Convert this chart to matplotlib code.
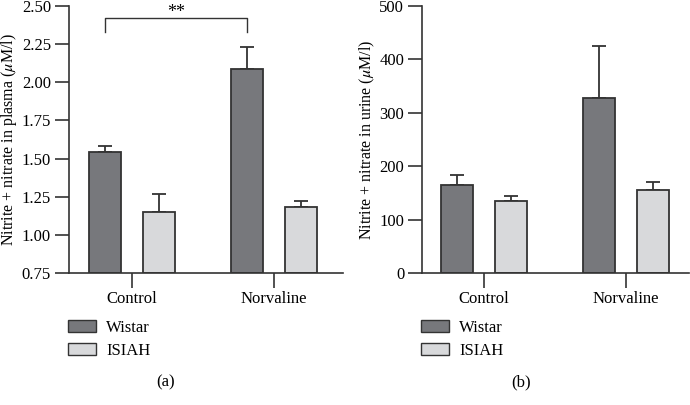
import matplotlib
matplotlib.use("Agg")
import matplotlib.pyplot as plt
from matplotlib.patches import Patch
import numpy as np

# Data
groups = ["Control", "Norvaline"]
strains = ["Wistar", "ISIAH"]
plasma_mean = {"Wistar": [1.54, 2.09], "ISIAH": [1.15, 1.18]}
plasma_err = {"Wistar": [0.04, 0.14], "ISIAH": [0.12, 0.045]}
urine_mean = {"Wistar": [165, 328], "ISIAH": [135, 156]}
urine_err = {"Wistar": [18, 97], "ISIAH": [10, 14]}

colors = {"Wistar": "#77787c", "ISIAH": "#d8d9db"}
edge = "#333333"

plt.rcParams["font.family"] = "Liberation Serif"
plt.rcParams["mathtext.fontset"] = "stix"
plt.rcParams["font.size"] = 12

fig = plt.figure(figsize=(6.9, 4.05), dpi=100)
ax1 = fig.add_axes([0.1, 0.326, 0.397, 0.659])
ax2 = fig.add_axes([0.612, 0.326, 0.386, 0.659])

offsets = {"Wistar": -0.19, "ISIAH": 0.19}
width = 0.225
x = np.arange(len(groups))


def draw_panel(ax, means, errs, ylim, yticks, fmt, ylabel, xlim):
    base = ylim[0]
    for s in strains:
        xs = x + offsets[s]
        heights = np.array(means[s]) - base
        ax.bar(xs, heights, width, bottom=base,
               color=colors[s], edgecolor=edge, linewidth=1.3, zorder=2)
        ax.errorbar(xs, means[s], yerr=[np.zeros(len(xs)), errs[s]], fmt="none",
                    ecolor=edge, elinewidth=1.3, capsize=4.8, capthick=1.3, zorder=1)
    ax.set_ylim(ylim)
    ax.set_xlim(xlim)
    ax.set_yticks(yticks)
    ax.set_yticklabels([fmt.format(t) for t in yticks])
    ax.set_xticks(x)
    ax.set_xticklabels(groups)
    ax.set_ylabel(ylabel, fontsize=11.5, labelpad=2)
    for sp in ["top", "right"]:
        ax.spines[sp].set_visible(False)
    for sp in ["left", "bottom"]:
        ax.spines[sp].set_linewidth(1.2)
        ax.spines[sp].set_color(edge)
    ax.tick_params(axis="both", length=10, width=1.2, color=edge, labelsize=12)
    ax.tick_params(axis="y", pad=3)
    ax.tick_params(axis="x", length=11, pad=2)


# Panel (a)
draw_panel(ax1, plasma_mean, plasma_err, (0.75, 2.50),
           [0.75, 1.00, 1.25, 1.50, 1.75, 2.00, 2.25, 2.50], "{:.2f}",
           r"Nitrite + nitrate in plasma ($\mu$M/l)", (-0.444, 1.486))
# significance bracket
x0, x1 = 0 + offsets["Wistar"], 1 + offsets["Wistar"]
ax1.plot([x0, x0, x1, x1], [2.33, 2.42, 2.42, 2.33], color=edge, lw=1.0,
         clip_on=False)
ax1.text((x0 + x1) / 2, 2.455, "**", ha="center", va="center", fontsize=13)

# Panel (b)
draw_panel(ax2, urine_mean, urine_err, (0, 500),
           [0, 100, 200, 300, 400, 500], "{:d}",
           r"Nitrite + nitrate in urine ($\mu$M/l)", (-0.434, 1.44))

# Legends
handles = [Patch(facecolor=colors[s], edgecolor=edge, linewidth=1.0, label=s)
           for s in strains]
for xpos in [68 / 690, 421 / 690]:
    fig.legend(handles=handles, loc="upper left", bbox_to_anchor=(xpos, 0.21),
               frameon=False, fontsize=12, handlelength=1.68, handleheight=0.66,
               handletextpad=0.6, labelspacing=0.42, borderaxespad=0, borderpad=0)

fig.text(166 / 690, 1 - 382 / 405, "(a)", ha="center", va="center", fontsize=12)
fig.text(521 / 690, 1 - 382 / 405, "(b)", ha="center", va="center", fontsize=12)

fig.savefig("out.png", dpi=100)
